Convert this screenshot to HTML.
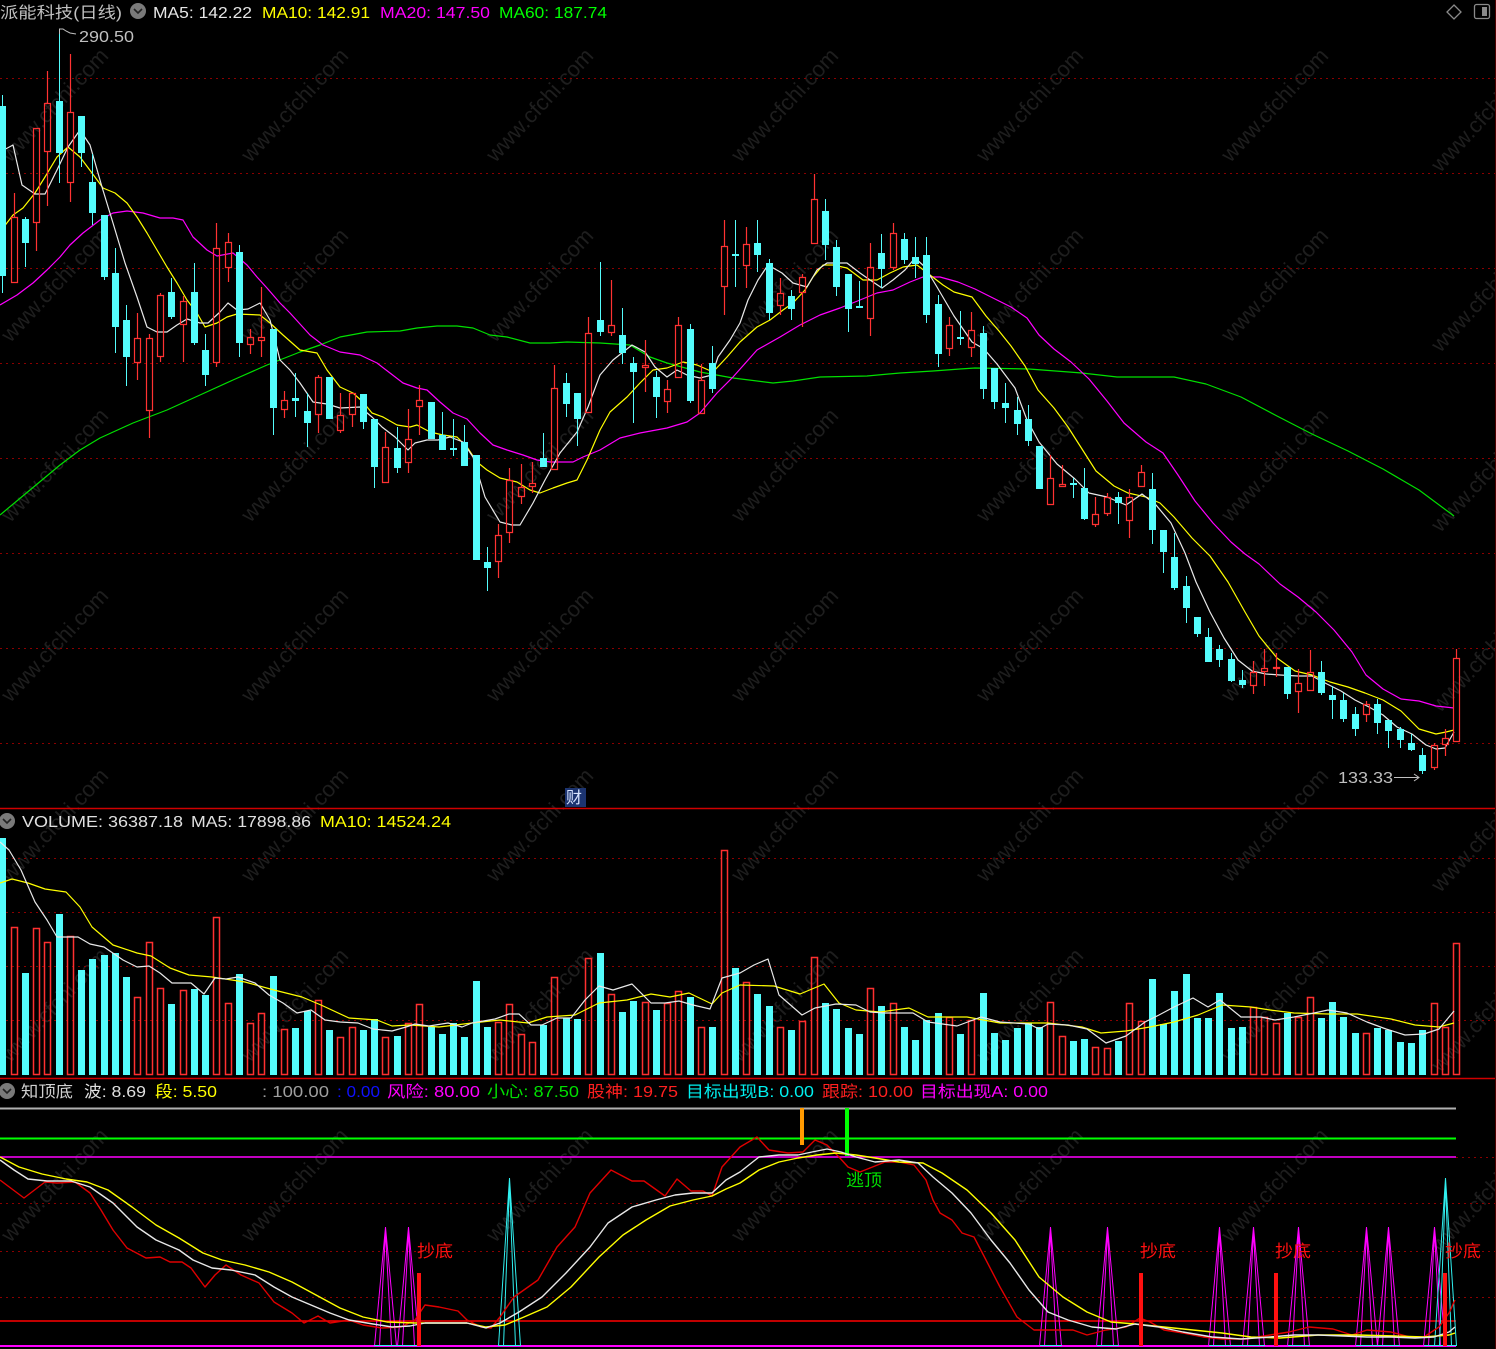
<!DOCTYPE html>
<html><head><meta charset="utf-8"><style>
html,body{margin:0;padding:0;background:#000;}
svg{display:block;}
text{font-family:"Liberation Sans","Noto Sans CJK SC",sans-serif;}
</style></head><body>
<svg width="1496" height="1349" viewBox="0 0 1496 1349" xmlns="http://www.w3.org/2000/svg">
<rect width="1496" height="1349" fill="#000"/>

<!-- watermarks -->
<g fill="#1e1e1e" font-size="22" text-anchor="middle">
<text transform="translate(60,110) rotate(-47)">www.cfchi.com</text>
<text transform="translate(300,110) rotate(-47)">www.cfchi.com</text>
<text transform="translate(545,110) rotate(-47)">www.cfchi.com</text>
<text transform="translate(790,110) rotate(-47)">www.cfchi.com</text>
<text transform="translate(1035,110) rotate(-47)">www.cfchi.com</text>
<text transform="translate(1280,110) rotate(-47)">www.cfchi.com</text>
<text transform="translate(1490,120) rotate(-47)">www.cfchi.com</text>
<text transform="translate(60,290) rotate(-47)">www.cfchi.com</text>
<text transform="translate(300,290) rotate(-47)">www.cfchi.com</text>
<text transform="translate(545,290) rotate(-47)">www.cfchi.com</text>
<text transform="translate(790,290) rotate(-47)">www.cfchi.com</text>
<text transform="translate(1035,290) rotate(-47)">www.cfchi.com</text>
<text transform="translate(1280,290) rotate(-47)">www.cfchi.com</text>
<text transform="translate(1490,300) rotate(-47)">www.cfchi.com</text>
<text transform="translate(60,470) rotate(-47)">www.cfchi.com</text>
<text transform="translate(300,470) rotate(-47)">www.cfchi.com</text>
<text transform="translate(545,470) rotate(-47)">www.cfchi.com</text>
<text transform="translate(790,470) rotate(-47)">www.cfchi.com</text>
<text transform="translate(1035,470) rotate(-47)">www.cfchi.com</text>
<text transform="translate(1280,470) rotate(-47)">www.cfchi.com</text>
<text transform="translate(1490,480) rotate(-47)">www.cfchi.com</text>
<text transform="translate(60,650) rotate(-47)">www.cfchi.com</text>
<text transform="translate(300,650) rotate(-47)">www.cfchi.com</text>
<text transform="translate(545,650) rotate(-47)">www.cfchi.com</text>
<text transform="translate(790,650) rotate(-47)">www.cfchi.com</text>
<text transform="translate(1035,650) rotate(-47)">www.cfchi.com</text>
<text transform="translate(1280,650) rotate(-47)">www.cfchi.com</text>
<text transform="translate(1490,660) rotate(-47)">www.cfchi.com</text>
<text transform="translate(60,830) rotate(-47)">www.cfchi.com</text>
<text transform="translate(300,830) rotate(-47)">www.cfchi.com</text>
<text transform="translate(545,830) rotate(-47)">www.cfchi.com</text>
<text transform="translate(790,830) rotate(-47)">www.cfchi.com</text>
<text transform="translate(1035,830) rotate(-47)">www.cfchi.com</text>
<text transform="translate(1280,830) rotate(-47)">www.cfchi.com</text>
<text transform="translate(1490,840) rotate(-47)">www.cfchi.com</text>
<text transform="translate(60,1010) rotate(-47)">www.cfchi.com</text>
<text transform="translate(300,1010) rotate(-47)">www.cfchi.com</text>
<text transform="translate(545,1010) rotate(-47)">www.cfchi.com</text>
<text transform="translate(790,1010) rotate(-47)">www.cfchi.com</text>
<text transform="translate(1035,1010) rotate(-47)">www.cfchi.com</text>
<text transform="translate(1280,1010) rotate(-47)">www.cfchi.com</text>
<text transform="translate(1490,1020) rotate(-47)">www.cfchi.com</text>
<text transform="translate(60,1190) rotate(-47)">www.cfchi.com</text>
<text transform="translate(300,1190) rotate(-47)">www.cfchi.com</text>
<text transform="translate(545,1190) rotate(-47)">www.cfchi.com</text>
<text transform="translate(790,1190) rotate(-47)">www.cfchi.com</text>
<text transform="translate(1035,1190) rotate(-47)">www.cfchi.com</text>
<text transform="translate(1280,1190) rotate(-47)">www.cfchi.com</text>
<text transform="translate(1490,1200) rotate(-47)">www.cfchi.com</text>
</g>

<!-- grid dotted -->
<g stroke="#8a0000" stroke-width="1" stroke-dasharray="2,4">
<path d="M0 78.5H1496M0 173.5H1496M0 268.5H1496M0 363.5H1496M0 458.5H1496M0 553.5H1496M0 648.5H1496M0 743.5H1496"/>
<path d="M0 858.5H1496M0 912.5H1496M0 966.5H1496M0 1020.5H1496"/>
<path d="M0 1203.5H1496M0 1251.5H1496M0 1297.5H1496M1456 1157.5H1496"/>
</g>

<!-- panel separators -->
<path d="M0 808.5H1496M0 1078.5H1496" stroke="#d00000" stroke-width="1.5"/>
<path d="M1495.5 0V1349" stroke="#500000" stroke-width="1"/>

<!-- header -->
<text x="0" y="18" font-size="16" fill="#c0c0c0" textLength="122" lengthAdjust="spacingAndGlyphs">派能科技(日线)</text>
<circle cx="138" cy="11" r="8" fill="#7a7a7a"/>
<path d="M134 9l4 4 4-4" stroke="#222" stroke-width="1.6" fill="none"/>
<text x="153" y="18" font-size="16" fill="#e6e6e6" textLength="99" lengthAdjust="spacingAndGlyphs">MA5: 142.22</text>
<text x="262" y="18" font-size="16" fill="#ffff00" textLength="108" lengthAdjust="spacingAndGlyphs">MA10: 142.91</text>
<text x="380" y="18" font-size="16" fill="#ff00ff" textLength="110" lengthAdjust="spacingAndGlyphs">MA20: 147.50</text>
<text x="499" y="18" font-size="16" fill="#00ff00" textLength="108" lengthAdjust="spacingAndGlyphs">MA60: 187.74</text>
<path d="M1454 5l7 7-7 7-7-7z" stroke="#8a8a8a" stroke-width="1.3" fill="none"/>
<rect x="1474.5" y="4.5" width="15" height="14" rx="2" stroke="#8a8a8a" stroke-width="1.3" fill="none"/>
<rect x="1482" y="7" width="5" height="9" fill="#8a8a8a"/>

<!-- MA lines main -->
<g fill="none" stroke-width="1.2" stroke-linejoin="round">
<polyline stroke="#00e000" points="0,515 30,490 60,465 80,450 100,438 133,423 167,410 200,395 233,380 267,365 300,352 320,345 340,337 367,332 400,331 417,328 437,326 457,326 473,328 490,335 507,337 530,343 550,343 567,342 600,343 630,345 650,357 667,363 700,372 733,378 773,383 793,381 820,377 867,376 900,373 933,371 960,369 975,368 1029,369 1082,373 1117,377 1174,377 1206,384 1241,397 1277,416 1312,434 1348,451 1383,469 1419,490 1454,516"/>
<polyline stroke="#ff00ff" points="0,305 17,295 33,283 47,270 60,257 70,245 83,233 100,220 113,213 127,211 143,213 160,218 173,218 183,220 193,237 207,250 217,256 233,253 247,265 257,277 267,288 280,303 290,313 300,324 310,335 323,345 340,352 360,355 377,363 390,373 403,383 417,388 427,390 440,402 453,413 467,419 480,433 493,445 507,450 523,455 537,460 550,462 573,462 583,457 600,450 620,438 640,433 667,428 687,422 700,413 717,393 733,377 757,350 780,337 800,325 820,315 840,308 860,300 877,293 893,290 910,282 923,277 940,277 958,282 975,289 993,298 1011,307 1027,318 1039,335 1054,349 1071,362 1089,379 1107,401 1124,423 1146,442 1163,453 1178,475 1195,501 1213,523 1231,542 1245,554 1259,564 1280,584 1298,597 1316,612 1334,630 1352,652 1366,675 1383,689 1401,699 1419,701 1436,706 1454,708"/>
<polyline stroke="#ffff00" points="0,232 13,215 23,208 35,193 45,177 57,157 68,147 80,157 92,173 103,188 115,193 127,203 137,217 147,233 157,250 167,267 177,283 187,300 197,313 205,327 217,323 227,317 237,314 260,315 270,323 283,335 300,350 317,353 327,370 340,387 353,393 363,402 372,413 383,417 397,425 410,427 417,425 430,432 443,435 457,437 467,447 477,462 487,470 500,478 517,482 530,490 540,493 553,488 567,483 577,480 587,460 600,430 610,412 627,397 640,383 653,370 667,368 683,362 697,365 713,372 727,357 740,342 757,327 770,320 783,310 793,303 805,290 813,277 823,265 833,265 847,268 863,280 877,280 890,273 903,267 917,265 930,275 943,285 954,292 972,297 986,316 999,331 1011,346 1025,366 1038,390 1054,408 1068,427 1082,449 1096,471 1114,486 1128,493 1146,497 1160,503 1174,517 1192,538 1210,556 1228,582 1245,612 1259,636 1277,658 1295,671 1312,675 1330,682 1348,687 1365,693 1383,700 1401,711 1419,729 1436,734 1446,732 1454,730"/>
<polyline stroke="#e8e8e8" points="0,152 13,145 22,185 35,194 45,194 57,170 68,147 80,130 90,145 102,187 113,223 125,263 137,297 147,327 157,332 167,332 177,325 187,319 200,323 208,323 220,312 228,303 237,310 248,309 260,303 270,320 280,360 290,370 300,383 313,402 327,404 340,408 360,407 372,417 382,427 395,437 408,450 415,443 427,440 438,440 450,437 463,442 473,457 485,497 500,522 512,525 520,525 533,503 545,480 560,453 577,432 588,407 600,375 613,360 632,345 645,352 655,367 667,377 677,370 687,375 700,378 712,375 718,357 730,340 740,323 748,300 758,280 768,265 782,273 793,283 807,287 817,270 827,263 847,263 860,273 870,280 882,288 893,280 905,270 915,258 925,267 937,287 954,316 972,342 984,349 997,364 1015,388 1027,420 1039,442 1057,464 1075,479 1089,493 1107,497 1126,505 1142,494 1156,505 1171,523 1185,553 1196,582 1210,612 1224,638 1238,660 1252,671 1266,674 1280,675 1298,676 1312,676 1327,684 1341,691 1355,700 1369,707 1383,715 1397,727 1412,734 1426,745 1436,749 1445,748 1454,732"/>
</g>

<!-- cyan candles -->
<path stroke="#54fcfc" stroke-width="1" fill="none" d="M2.5 95V293M25.5 217V267M59.5 30V183M81.5 116V167M92.5 154V225M104.5 215V280M115.5 248V353M126.5 305V386M171.5 278V319M194.5 263V345M205.5 334V386M239.5 245V357M273.5 329V435M295.5 373V417M307.5 393V447M329.5 377V419M363.5 394V429M374.5 419V488M397.5 427V473M431.5 402V439M442.5 412V450M453.5 419V456M464.5 425V466M476.5 455V560M487.5 547V591M543.5 433V467M566.5 373V417M577.5 393V446M600.5 262V336M622.5 308V364M633.5 357V423M656.5 371V418M690.5 324V403M712.5 346V393M735.5 220V287M757.5 220V272M769.5 259V320M791.5 290V320M825.5 199V260M836.5 240V296M848.5 274V332M859.5 281V308M881.5 234V288M904.5 233V264M915.5 237V278M926.5 237V323M938.5 295V367M960.5 311V345M983.5 326V399M994.5 368V409M1005.5 383V423M1017.5 397V435M1028.5 405V446M1039.5 446V489M1073.5 478V498M1084.5 468V520M1118.5 492V524M1152.5 473V544M1163.5 530V573M1174.5 533V590M1186.5 576V623M1197.5 617V637M1208.5 628V662M1219.5 645V667M1231.5 653V682M1242.5 670V688M1287.5 667V699M1321.5 661V695M1332.5 686V719M1343.5 693V722M1355.5 707V736M1377.5 699V734M1388.5 720V748M1400.5 727V748M1411.5 734V751M1422.5 748V774"/>
<path fill="#54fcfc" d="M-1 106h7v170h-7zM22 219h7v24h-7zM56 101h7v52h-7zM78 116h7v37h-7zM89 182h7v31h-7zM101 215h7v62h-7zM112 273h7v54h-7zM123 320h7v37h-7zM168 292h7v25h-7zM191 292h7v51h-7zM202 350h7v25h-7zM236 252h7v91h-7zM270 329h7v79h-7zM292 398h7v3h-7zM304 411h7v12h-7zM326 377h7v42h-7zM360 394h7v28h-7zM371 419h7v48h-7zM394 448h7v20h-7zM428 402h7v37h-7zM439 435h7v15h-7zM450 448h7v2h-7zM461 442h7v24h-7zM473 455h7v105h-7zM484 562h7v6h-7zM540 458h7v9h-7zM563 383h7v21h-7zM574 393h7v26h-7zM597 320h7v12h-7zM619 335h7v18h-7zM630 363h7v9h-7zM653 377h7v20h-7zM687 329h7v72h-7zM709 363h7v26h-7zM732 254h7v2h-7zM754 243h7v12h-7zM766 263h7v50h-7zM788 296h7v13h-7zM822 211h7v34h-7zM833 247h7v40h-7zM845 274h7v35h-7zM856 306h7v2h-7zM878 253h7v16h-7zM901 239h7v21h-7zM912 257h7v7h-7zM923 255h7v60h-7zM935 304h7v50h-7zM957 337h7v2h-7zM980 333h7v56h-7zM991 368h7v34h-7zM1002 403h7v5h-7zM1014 410h7v14h-7zM1025 419h7v22h-7zM1036 446h7v43h-7zM1070 483h7v2h-7zM1081 488h7v31h-7zM1115 497h7v6h-7zM1149 489h7v41h-7zM1160 530h7v22h-7zM1171 557h7v31h-7zM1183 586h7v22h-7zM1194 617h7v17h-7zM1205 637h7v25h-7zM1216 649h7v11h-7zM1228 659h7v22h-7zM1239 680h7v5h-7zM1284 667h7v27h-7zM1318 672h7v21h-7zM1329 695h7v5h-7zM1340 700h7v19h-7zM1352 714h7v15h-7zM1374 704h7v19h-7zM1385 720h7v11h-7zM1397 729h7v11h-7zM1408 743h7v7h-7zM1419 755h7v16h-7z"/>

<!-- red candles -->
<path stroke="#ff3232" stroke-width="1.2" fill="none" d="M14.5 193V217M36.5 223V251M47.5 71V103M47.5 152V206M70.5 54V112M70.5 183V202M137.5 313V338M137.5 363V380M149.5 334V338M149.5 411V438M160.5 293V295M160.5 357V362M183.5 296V301M183.5 325V362M216.5 223V248M216.5 363V367M228.5 233V242M228.5 268V282M250.5 329V337M250.5 345V354M261.5 287V337M261.5 341V357M284.5 391V400M284.5 410V418M318.5 375V377M318.5 415V433M340.5 393V415M340.5 431V433M352.5 415V427M385.5 432V447M408.5 409V439M408.5 463V473M419.5 385V400M419.5 407V435M498.5 524V535M498.5 562V578M509.5 468V480M509.5 533V543M521.5 464V487M521.5 497V504M532.5 462V483M532.5 487V493M554.5 365V388M588.5 317V333M611.5 280V325M611.5 333V336M645.5 340V365M645.5 368V392M667.5 380V389M667.5 402V413M678.5 317V325M701.5 364V380M724.5 220V246M724.5 287V315M746.5 227V244M746.5 266V288M780.5 278V293M780.5 306V315M802.5 274V277M802.5 293V327M814.5 174V199M870.5 243V267M870.5 319V336M893.5 223V233M893.5 268V270M949.5 317V325M949.5 349V356M971.5 312V330M971.5 348V357M1050.5 455V478M1062.5 465V484M1095.5 497V514M1095.5 525V527M1107.5 493V497M1107.5 514V516M1129.5 489V497M1129.5 521V538M1141.5 465V472M1253.5 661V672M1253.5 686V694M1264.5 649V668M1264.5 672V686M1276.5 653V667M1276.5 668V677M1298.5 669V683M1298.5 692V713M1310.5 650V672M1366.5 701V704M1366.5 715V722M1434.5 743V745M1434.5 768V770M1445.5 729V738M1445.5 745V756M1456.5 649V658
M11.5 217.5h6v65h-6zM33.5 128.5h6v94h-6zM44.5 103.5h6v48h-6zM67.5 112.5h6v70h-6zM134.5 338.5h6v24h-6zM146.5 338.5h6v72h-6zM157.5 295.5h6v61h-6zM180.5 301.5h6v23h-6zM213.5 248.5h6v114h-6zM225.5 242.5h6v25h-6zM247.5 337.5h6v7h-6zM258.5 337.5h6v3h-6zM281.5 400.5h6v9h-6zM315.5 377.5h6v37h-6zM337.5 415.5h6v15h-6zM349.5 393.5h6v21h-6zM382.5 447.5h6v35h-6zM405.5 439.5h6v23h-6zM416.5 400.5h6v6h-6zM495.5 535.5h6v26h-6zM506.5 480.5h6v52h-6zM518.5 487.5h6v9h-6zM529.5 483.5h6v3h-6zM551.5 388.5h6v81h-6zM585.5 333.5h6v79h-6zM608.5 325.5h6v7h-6zM642.5 365.5h6v2h-6zM664.5 389.5h6v12h-6zM675.5 325.5h6v52h-6zM698.5 380.5h6v33h-6zM721.5 246.5h6v40h-6zM743.5 244.5h6v21h-6zM777.5 293.5h6v12h-6zM799.5 277.5h6v15h-6zM811.5 199.5h6v44h-6zM867.5 267.5h6v51h-6zM890.5 233.5h6v34h-6zM946.5 325.5h6v23h-6zM968.5 330.5h6v17h-6zM1047.5 478.5h6v26h-6zM1059.5 484.5h6v2h-6zM1092.5 514.5h6v10h-6zM1104.5 497.5h6v16h-6zM1126.5 497.5h6v23h-6zM1138.5 472.5h6v14h-6zM1250.5 672.5h6v13h-6zM1261.5 668.5h6v3h-6zM1273.5 667.5h6v1h-6zM1295.5 683.5h6v8h-6zM1307.5 672.5h6v18h-6zM1363.5 704.5h6v10h-6zM1431.5 745.5h6v22h-6zM1442.5 738.5h6v6h-6zM1453.5 658.5h6v83h-6z"/>

<!-- high/low labels -->
<polyline points="59,29 63,29 66,31 70,33 76,34" fill="none" stroke="#c0c0c0" stroke-width="1"/>
<path d="M59.5 29V34" stroke="#c0c0c0" stroke-width="1"/>
<text x="79" y="42" font-size="16" fill="#c0c0c0" textLength="55" lengthAdjust="spacingAndGlyphs">290.50</text>
<text x="1338" y="783" font-size="16" fill="#c0c0c0" textLength="55" lengthAdjust="spacingAndGlyphs">133.33</text>
<path d="M1394 777.5H1419M1414 774l5 3.5-5 3.5" stroke="#c0c0c0" stroke-width="1" fill="none"/>

<!-- 财 -->
<rect x="565" y="788" width="21" height="19" fill="#1c3470"/>
<text x="566" y="803" font-size="16" fill="#d8e4ff">财</text>

<!-- volume header -->
<circle cx="7" cy="821" r="8" fill="#7a7a7a"/>
<path d="M3 819l4 4 4-4" stroke="#222" stroke-width="1.6" fill="none"/>
<text x="22" y="827" font-size="16" fill="#e0e0e0" textLength="161" lengthAdjust="spacingAndGlyphs">VOLUME: 36387.18</text>
<text x="191" y="827" font-size="16" fill="#e0e0e0" textLength="120" lengthAdjust="spacingAndGlyphs">MA5: 17898.86</text>
<text x="320" y="827" font-size="16" fill="#ffff00" textLength="131" lengthAdjust="spacingAndGlyphs">MA10: 14524.24</text>

<!-- volume bars -->
<path fill="#54fcfc" d="M-1 838h7v237h-7zM22 973h7v102h-7zM56 914h7v161h-7zM78 970h7v105h-7zM89 959h7v116h-7zM101 955h7v120h-7zM112 953h7v122h-7zM123 977h7v98h-7zM168 1004h7v71h-7zM191 989h7v86h-7zM202 995h7v80h-7zM236 974h7v101h-7zM270 976h7v99h-7zM292 1028h7v47h-7zM304 1011h7v64h-7zM326 1030h7v45h-7zM360 1030h7v45h-7zM371 1019h7v56h-7zM394 1036h7v39h-7zM428 1027h7v48h-7zM439 1034h7v41h-7zM450 1023h7v52h-7zM461 1037h7v38h-7zM473 981h7v94h-7zM484 1027h7v48h-7zM540 1025h7v50h-7zM563 1018h7v57h-7zM574 1019h7v56h-7zM597 953h7v122h-7zM619 1012h7v63h-7zM630 1001h7v74h-7zM653 1010h7v65h-7zM687 997h7v78h-7zM709 1027h7v48h-7zM732 968h7v107h-7zM754 994h7v81h-7zM766 1006h7v69h-7zM788 1030h7v45h-7zM822 1003h7v72h-7zM833 1009h7v66h-7zM845 1028h7v47h-7zM856 1034h7v41h-7zM878 1006h7v69h-7zM901 1027h7v48h-7zM912 1040h7v35h-7zM923 1020h7v55h-7zM935 1013h7v62h-7zM957 1034h7v41h-7zM980 993h7v82h-7zM991 1033h7v42h-7zM1002 1040h7v35h-7zM1014 1028h7v47h-7zM1025 1023h7v52h-7zM1036 1027h7v48h-7zM1070 1041h7v34h-7zM1081 1039h7v36h-7zM1115 1041h7v34h-7zM1149 979h7v96h-7zM1160 1024h7v51h-7zM1171 991h7v84h-7zM1183 974h7v101h-7zM1194 1018h7v57h-7zM1205 1018h7v57h-7zM1216 993h7v82h-7zM1228 1028h7v47h-7zM1239 1027h7v48h-7zM1284 1013h7v62h-7zM1318 1018h7v57h-7zM1329 1002h7v73h-7zM1340 1017h7v58h-7zM1352 1033h7v42h-7zM1374 1028h7v47h-7zM1385 1030h7v45h-7zM1397 1042h7v33h-7zM1408 1043h7v32h-7zM1419 1030h7v45h-7z"/>
<path fill="none" stroke="#ff3030" stroke-width="1.5" d="M11.5 927.5h6v147h-6zM33.5 928.5h6v146h-6zM44.5 942.5h6v132h-6zM67.5 936.5h6v138h-6zM134.5 997.5h6v77h-6zM146.5 942.5h6v132h-6zM157.5 988.5h6v86h-6zM180.5 990.5h6v84h-6zM213.5 917.5h6v157h-6zM225.5 1003.5h6v71h-6zM247.5 1023.5h6v51h-6zM258.5 1013.5h6v61h-6zM281.5 1029.5h6v45h-6zM315.5 1000.5h6v74h-6zM337.5 1037.5h6v37h-6zM349.5 1027.5h6v47h-6zM382.5 1037.5h6v37h-6zM405.5 1023.5h6v51h-6zM416.5 1004.5h6v70h-6zM495.5 1022.5h6v52h-6zM506.5 1004.5h6v70h-6zM518.5 1034.5h6v40h-6zM529.5 1042.5h6v32h-6zM551.5 977.5h6v97h-6zM585.5 958.5h6v116h-6zM608.5 994.5h6v80h-6zM642.5 1002.5h6v72h-6zM664.5 1003.5h6v71h-6zM675.5 991.5h6v83h-6zM698.5 1027.5h6v47h-6zM721.5 850.5h6v224h-6zM743.5 982.5h6v92h-6zM777.5 1027.5h6v47h-6zM799.5 1021.5h6v53h-6zM811.5 957.5h6v117h-6zM867.5 988.5h6v86h-6zM890.5 1003.5h6v71h-6zM946.5 1017.5h6v57h-6zM968.5 1020.5h6v54h-6zM1047.5 1002.5h6v72h-6zM1059.5 1036.5h6v38h-6zM1092.5 1047.5h6v27h-6zM1104.5 1048.5h6v26h-6zM1126.5 1003.5h6v71h-6zM1138.5 1021.5h6v53h-6zM1250.5 1007.5h6v67h-6zM1261.5 1017.5h6v57h-6zM1273.5 1023.5h6v51h-6zM1295.5 1017.5h6v57h-6zM1307.5 997.5h6v77h-6zM1363.5 1033.5h6v41h-6zM1431.5 1003.5h6v71h-6zM1442.5 1027.5h6v47h-6zM1453.5 943.5h6v131h-6z"/>

<!-- volume MA -->
<g fill="none" stroke-width="1.2" stroke-linejoin="round">
<polyline stroke="#ffff00" points="0,883 12,879 28,883 45,889 66,892 80,907 92,927 113,945 137,953 151,956 170,968 189,975 212,977 245,982 274,990 302,997 321,1005 349,1018 377,1020 392,1026 410,1025 439,1027 472,1023 500,1020 528,1023 547,1017 575,1015 599,1003 627,1000 651,994 670,997 689,993 712,1004 722,993 740,985 774,986 800,994 824,984 839,1003 856,1010 880,1012 909,1008 928,1017 967,1017 1000,1023 1048,1023 1082,1027 1101,1033 1126,1031 1150,1027 1174,1022 1198,1015 1222,1005 1251,1007 1270,1010 1294,1013 1328,1014 1357,1014 1391,1019 1415,1025 1439,1027 1454,1023"/>
<polyline stroke="#e8e8e8" points="0,842 9,850 21,870 35,902 47,920 57,937 78,937 90,944 104,947 123,960 137,967 149,966 160,973 172,983 191,983 204,994 215,978 226,979 238,977 255,983 269,995 283,1003 297,1013 311,1010 325,1020 340,1022 358,1023 373,1029 392,1031 406,1027 415,1024 429,1026 448,1023 462,1027 472,1023 495,1019 509,1014 519,1014 531,1025 542,1025 557,1018 571,1018 585,1000 599,986 613,990 632,984 651,1003 665,1003 679,1001 693,1005 710,1009 722,978 740,973 754,965 768,959 779,995 802,1015 815,1008 836,1004 856,1005 870,1012 885,1013 913,1013 928,1022 957,1026 981,1017 1000,1022 1029,1024 1039,1029 1048,1024 1068,1025 1087,1029 1106,1043 1126,1036 1145,1022 1159,1015 1174,1007 1193,998 1208,1007 1220,1000 1241,1017 1261,1017 1275,1020 1294,1017 1314,1013 1328,1010 1347,1013 1367,1022 1386,1029 1405,1035 1424,1034 1439,1029 1454,1011"/>
</g>

<!-- indicator header -->
<circle cx="7" cy="1091" r="8" fill="#7a7a7a"/>
<path d="M3 1089l4 4 4-4" stroke="#222" stroke-width="1.6" fill="none"/>
<g font-size="16">
<text x="21" y="1097" fill="#d0d0d0" textLength="52" lengthAdjust="spacingAndGlyphs">知顶底</text>
<text x="84" y="1097" fill="#e0e0e0" textLength="62" lengthAdjust="spacingAndGlyphs">波: 8.69</text>
<text x="155" y="1097" fill="#ffff00" textLength="62" lengthAdjust="spacingAndGlyphs">段: 5.50</text>
<text x="262" y="1097" fill="#a0a0a0" textLength="67" lengthAdjust="spacingAndGlyphs">: 100.00</text>
<text x="337" y="1097" fill="#1010ff" textLength="43" lengthAdjust="spacingAndGlyphs">: 0.00</text>
<text x="387" y="1097" fill="#ff00ff" textLength="93" lengthAdjust="spacingAndGlyphs">风险: 80.00</text>
<text x="487" y="1097" fill="#00e000" textLength="92" lengthAdjust="spacingAndGlyphs">小心: 87.50</text>
<text x="587" y="1097" fill="#ff2020" textLength="91" lengthAdjust="spacingAndGlyphs">股神: 19.75</text>
<text x="686" y="1097" fill="#00f0f0" textLength="128" lengthAdjust="spacingAndGlyphs">目标出现B: 0.00</text>
<text x="822" y="1097" fill="#ff2020" textLength="91" lengthAdjust="spacingAndGlyphs">跟踪: 10.00</text>
<text x="920" y="1097" fill="#ff00ff" textLength="128" lengthAdjust="spacingAndGlyphs">目标出现A: 0.00</text>
</g>

<!-- indicator horizontal lines -->
<path d="M0 1108.5H1456" stroke="#b0b0b0" stroke-width="2"/>
<path d="M0 1138.5H1456" stroke="#00ff00" stroke-width="2"/>
<path d="M0 1157H1456" stroke="#ff00ff" stroke-width="1.5"/>
<path d="M0 1321H1456" stroke="#ff0000" stroke-width="1.5"/>
<path d="M0 1346H1456" stroke="#ff00ff" stroke-width="2"/>

<!-- orange/green bars -->
<rect x="800" y="1108" width="4" height="37" fill="#ff9a00"/>
<rect x="845" y="1108" width="4" height="48" fill="#00ff00"/>
<text x="846" y="1186" font-size="17" fill="#00e000" textLength="36" lengthAdjust="spacingAndGlyphs">逃顶</text>

<!-- spikes -->
<g fill="none" stroke="#ff00ff" stroke-width="1">
<path d="M374.5 1346L385.5 1227L396.5 1346M379.5 1346L385.5 1232L391.5 1346"/>
<path d="M397.5 1346L408.5 1227L419.5 1346M402.5 1346L408.5 1232L414.5 1346"/>
<path d="M1039.5 1346L1050.5 1227L1061.5 1346M1044.5 1346L1050.5 1232L1056.5 1346"/>
<path d="M1096.5 1346L1107.5 1227L1118.5 1346M1101.5 1346L1107.5 1232L1113.5 1346"/>
<path d="M1208.5 1346L1219.5 1227L1230.5 1346M1213.5 1346L1219.5 1232L1225.5 1346"/>
<path d="M1242.5 1346L1253.5 1227L1264.5 1346M1247.5 1346L1253.5 1232L1259.5 1346"/>
<path d="M1287.5 1346L1298.5 1227L1309.5 1346M1292.5 1346L1298.5 1232L1304.5 1346"/>
<path d="M1355.5 1346L1366.5 1227L1377.5 1346M1360.5 1346L1366.5 1232L1372.5 1346"/>
<path d="M1377.5 1346L1388.5 1227L1399.5 1346M1382.5 1346L1388.5 1232L1394.5 1346"/>
<path d="M1423.5 1346L1434.5 1227L1445.5 1346M1428.5 1346L1434.5 1232L1440.5 1346"/>
</g>
<g fill="none" stroke="#30f0f0" stroke-width="1">
<path d="M498.5 1346L509.5 1178L520.5 1346M503.5 1346L509.5 1184L515.5 1346"/>
<path d="M1434.5 1346L1445.5 1178L1456.5 1346M1439.5 1346L1445.5 1184L1451.5 1346"/>
<path d="M374 1345.5H420M1040 1345.5H1062M1097 1345.5H1119M1209 1345.5H1265M1288 1345.5H1310M1356 1345.5H1400M1424 1345.5H1457M499 1345.5H521"/>
</g>

<!-- indicator lines -->
<g fill="none" stroke-width="1.4" stroke-linejoin="round">
<polyline stroke="#e00000" points="0,1180 24,1198 45,1182 57,1183 75,1182 90,1193 101,1210 113,1230 127,1248 146,1258 160,1257 170,1262 182,1262 191,1268 205,1287 215,1275 226,1265 241,1275 259,1283 274,1302 292,1313 304,1323 318,1316 330,1323 349,1320 363,1325 382,1328 401,1327 415,1320 425,1305 439,1307 458,1311 467,1320 481,1327 491,1328 500,1317 514,1297 538,1280 557,1247 575,1227 590,1193 611,1170 632,1181 644,1181 665,1196 677,1179 691,1191 703,1191 712,1196 722,1167 740,1147 757,1137 769,1150 788,1153 803,1152 815,1140 827,1145 839,1157 848,1167 860,1172 870,1168 885,1162 899,1162 914,1165 926,1180 933,1200 940,1213 952,1220 962,1233 974,1237 986,1260 1000,1287 1017,1317 1034,1330 1048,1330 1073,1330 1087,1335 1106,1330 1126,1327 1140,1318 1150,1322 1164,1330 1183,1333 1203,1337 1222,1339 1246,1339 1270,1335 1289,1332 1309,1327 1333,1329 1352,1335 1367,1330 1391,1332 1410,1337 1424,1337 1439,1327 1449,1313 1455,1300"/>
<polyline stroke="#ffff00" points="0,1157 19,1167 42,1174 66,1179 87,1182 108,1190 132,1207 156,1225 179,1238 203,1253 222,1260 245,1265 269,1272 292,1282 316,1295 340,1308 363,1317 387,1322 415,1323 467,1323 486,1327 505,1325 524,1317 547,1307 571,1287 599,1257 623,1235 646,1220 670,1206 693,1200 712,1196 726,1189 740,1183 759,1170 779,1162 798,1158 817,1155 836,1153 856,1155 875,1158 899,1162 923,1163 942,1173 967,1190 991,1213 1015,1240 1039,1277 1063,1297 1087,1312 1111,1322 1135,1324 1164,1327 1193,1330 1222,1333 1251,1337 1280,1338 1318,1335 1357,1335 1396,1336 1424,1337 1449,1335 1455,1333"/>
<polyline stroke="#e8e8e8" points="0,1160 14,1170 28,1179 47,1181 71,1181 90,1187 113,1203 137,1227 156,1240 179,1250 193,1260 212,1268 231,1270 255,1275 274,1287 292,1297 311,1305 330,1313 349,1320 373,1324 392,1327 410,1326 425,1323 467,1323 486,1328 500,1323 519,1312 542,1297 566,1273 590,1247 608,1223 632,1207 656,1200 675,1195 693,1193 712,1193 726,1180 740,1172 759,1157 779,1155 798,1155 812,1152 827,1149 841,1152 856,1157 875,1162 899,1160 918,1163 933,1177 952,1193 971,1213 991,1240 1010,1263 1029,1290 1048,1312 1068,1320 1092,1327 1116,1329 1135,1324 1159,1327 1183,1332 1212,1337 1241,1339 1270,1337 1294,1335 1318,1335 1343,1336 1367,1337 1391,1337 1415,1338 1434,1337 1449,1332 1455,1327"/>
</g>

<!-- 抄底 bars -->
<g fill="#ff1010">
<rect x="417" y="1273" width="4" height="73"/>
<rect x="1139" y="1273" width="4" height="73"/>
<rect x="1274" y="1273" width="4" height="73"/>
<rect x="1443" y="1273" width="4" height="73"/>
</g>
<g font-size="17" fill="#ff1010">
<text x="417" y="1257" textLength="36" lengthAdjust="spacingAndGlyphs">抄底</text>
<text x="1140" y="1257" textLength="36" lengthAdjust="spacingAndGlyphs">抄底</text>
<text x="1275" y="1257" textLength="36" lengthAdjust="spacingAndGlyphs">抄底</text>
<text x="1445" y="1257" textLength="36" lengthAdjust="spacingAndGlyphs">抄底</text>
</g>
</svg>
</body></html>
